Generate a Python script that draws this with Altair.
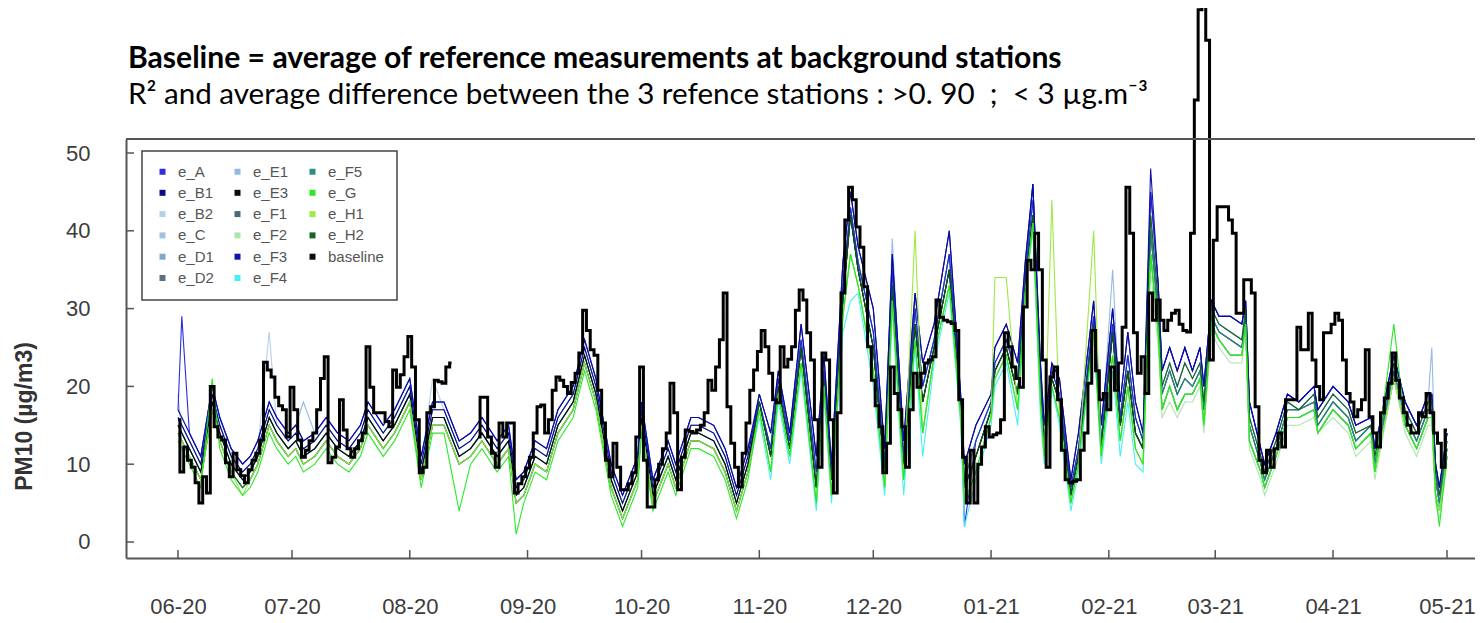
import altair as alt
import pandas as pd

START = "2020-06-01"

# ---- baseline (daily, from 2020-06-01), None = missing days ----
baseline_pm10 = [
    15.7, 9.0, 12.2, 10.5, 9.6, 7.6, 5.0, 8.4, 6.3, 20.0,
    14.8, 13.5, 13.1, 10.2, 8.4, 11.4, 9.3, 8.5, 7.6, 9.3,
    10.5, 11.4, 13.1, 23.1, 22.1, 21.2, 18.6, 17.5, 17.0, 13.5,
    19.9, 17.0, 13.1, 10.9, 11.8, 13.0, 14.0, 17.0, 21.0, 23.8,
    10.2, 10.9, 12.2, 18.3, 14.4, 12.0, 10.9, 12.0, 13.0, 14.0,
    25.1, 19.9, 16.6, 16.6, 16.6, 15.5, 14.8, 22.1, 19.9, 21.5,
    23.8, 26.4, 22.5, 15.7, 8.9, 9.6, 16.6, 17.4, 20.8, 20.6,
    20.4, 22.5, 23.0, None, None, None, None, None, None, 13.5,
    18.6, 18.6, 13.5, 11.4, 9.6, 15.3, 13.5, 15.3, 15.3, 6.3,
    7.5, 8.4, 9.5, 10.9, 14.0, 17.4, 17.6, 14.0, 15.7, 19.5,
    21.2, 20.8, 20.0, 19.1, 20.5, 21.7, 24.3, 29.8, 27.2, 24.7,
    24.0, 19.5, 15.3, 10.5, 8.4, 12.7, 9.6, 6.7, 6.7, 7.5,
    8.9, 13.5, 22.5, 10.5, 4.5, 4.5, 8.0, 10.0, 12.0, 14.0,
    20.4, 16.6, 6.7, 10.9, 14.4, 14.2, 14.0, 14.4, 15.0, 16.6,
    20.8, 19.5, 22.5, 26.0, 32.0, 17.4, 12.7, 9.6, 7.1, 11.4,
    15.3, 19.5, 22.1, 24.5, 27.2, 25.1, 21.7, 18.3, 17.9, 25.1,
    22.5, 23.5, 25.1, 29.8, 32.4, 31.1, 26.9, 23.4, 15.7, 9.6,
    24.3, 23.4, 15.7, 6.3, 16.6, 32.0, 41.4, 45.6, 44.0, 40.5,
    37.9, 32.8, 25.1, 20.8, 17.5, 14.8, 8.9, 12.7, 22.5, 19.1,
    17.0, 14.8, 9.6, 17.0, 21.7, 19.9, 21.7, 23.0, 23.4, 23.8,
    31.1, 28.9, 28.5, 28.3, 28.1, 27.2, 18.3, 10.9, 5.0, 11.8,
    5.0, 10.0, 12.2, 14.8, 13.5, 13.8, 14.0, 15.7, 26.9, 25.1,
    22.5, 21.0, 19.9, 30.2, 36.2, 35.0, 39.7, 35.0, 23.4, 9.6,
    21.2, 22.5, 18.3, 11.8, 8.0, 7.6, 7.8, 8.0, 11.8, 14.0,
    20.4, 27.2, 22.0, 18.3, 19.1, 17.0, 22.5, 19.5, 23.0, 27.6,
    45.6, 39.7, 26.9, 21.7, 23.8, 19.1, 32.0, 28.5, 31.1, 28.5,
    27.2, 28.5, 29.4, 29.8, 28.0, 27.2, 27.0, 39.7, 56.8, 68.4,
    75.0, 64.5, 23.4, 38.8, 43.1, 43.1, 43.1, 41.4, 39.7, 29.4,
    29.4, 33.7, 33.7, 32.0, 17.4, 10.5, 8.9, 11.8, 9.6, 12.0,
    14.0, 12.2, 18.3, 18.3, 18.3, 27.6, 24.7, 24.7, 29.4, 23.4,
    20.0, 18.3, 26.9, 26.9, 28.0, 29.4, 28.5, 23.4, 19.1, 18.0,
    16.1, 17.0, 18.3, 24.7, 16.1, 14.0, 12.2, 16.6, 18.5, 20.4,
    24.3, 20.8, 18.5, 16.6, 15.0, 14.0, 14.0, 16.6, 16.1, 19.1,
    16.6, 14.0, 12.7, 9.6, 14.4,
]

# ---- sensors: values at these day offsets from 2020-06-01 ----
sensor_day = [0, 1, 3, 6, 9, 11, 14, 17, 19, 21, 24, 26, 29, 31, 33, 36, 39, 42, 45, 48,
              50, 54, 57, 61, 64, 67, 70, 74, 77, 80, 84, 87, 89, 91, 94, 97, 100, 104, 107, 110,
              114, 117, 121, 122, 125, 129, 131, 135, 137, 141, 144, 147, 150,
              153, 156, 158, 161, 164, 168, 170, 172, 175, 177, 179, 183, 186, 188, 191, 194, 196, 199,
              203, 206, 207, 210, 214, 215, 218, 221, 223, 225, 227, 228, 230, 232, 235, 237, 241, 243,
              246, 248, 250, 252, 254,
              256, 258, 259, 261, 263, 265, 267, 269, 270, 272, 274, 277, 280, 281, 282, 285, 286, 289,
              292, 295, 299, 300, 304, 308, 310, 314, 315, 320, 323, 326, 329, 330, 331, 332, 334]

e_A = [17,29,14,11,20,16,12,10,11,13, 18,16,14,15,13,14,16,14,13,15, 18,15,17,21,11,18,18,13,14,16, 13,15,8,9,13,12,17,20,26,21, 10,6,11,18,8,13,10,16,16,15, 12,7,12,
       18,12,21,13,26,9,22,9,33,43, 36,27,10,35,11,30,20,26,37,18, 2,13,18,23,26,21,34,44,21,13, 22,19,7,12,29,13,28,16,24,16, 13,
       45,33,22,25,22,25,22,25,20,31, 29,29,28,31,18,12,10,14,19,18, 20,17,20,18,15,16,12,24,18,15, 19,19,10,7,14]
e_B1 = [16,15,13,10,19,15,11,9,10,12, 17,15,13,14,12,13,15,13,12,14, 17,14,16,20,10,17,17,12,13,15, 12,14,7,8,12,11,16,19,25,20, 9,5,10,17,7,12,9,15,15,14, 11,6,11,
        19,14,22,14,28,11,24,10,36,45, 38,30,12,37,13,32,23,28,40,19, 10,15,19,25,28,23,36,46,23,15, 23,21,8,14,31,15,30,18,27,18, 14,
        45,33,22,25,22,25,22,25,20,31, 29,29,28,31,18,12,10,14,19,18, 20,17,20,18,15,16,12,24,18,15, 19,19,10,7,14]
e_B2 = [16,15,13,10,19,15,11,9,10,12, 27,15,13,14,12,13,15,13,12,14, 17,14,16,20,10,21,17,12,13,15, 12,14,7,8,12,11,16,19,25,20, 9,5,10,17,7,12,9,15,15,14, 11,6,11,
        18,12,21,13,26,9,22,9,33,43, 36,27,10,35,11,30,20,26,37,18, 8,13,18,23,26,21,34,44,21,13, 22,19,7,12,29,13,28,16,24,16, 13,
        40,29,19,22,19,21,20,22,17,29, 27,26,25,29,15,10,8,12,17,17, 18,15,18,16,13,15,10,22,16,13, 17,17,8,5,12]
e_C = [19,14,12,9,18,14,10,8,9,11, 16,14,12,13,11,12,14,12,11,13, 16,13,15,19,9,16,16,11,12,14, 11,13,6,7,11,10,15,18,24,19, 8,4,9,16,6,11,8,14,14,13, 10,5,10,
       17,9,19,11,23,5,20,6,29,37, 33,22,7,31,8,26,14,24,33,16, 5,9,16,21,24,17,32,41,18,11, 20,16,5,10,27,11,24,13,20,12, 10,
       37,27,17,20,17,19,19,21,15,28, 26,24,24,28,13,9,7,11,16,16, 17,14,17,15,12,14,9,21,15,12, 16,16,6,4,11]
e_D1 = [16,15,13,10,19,15,11,9,10,12, 17,15,13,14,12,13,15,13,12,14, 17,14,16,20,10,17,17,12,13,15, 12,14,7,8,12,11,16,19,25,20, 9,5,10,17,7,12,9,15,15,14, 11,6,11,
        18,11,20,12,25,7,21,8,31,42, 35,25,9,33,10,28,18,25,35,17, 7,11,17,22,25,19,33,42,20,12, 21,18,6,11,28,12,27,15,22,14, 12,
        42,31,20,23,20,23,21,23,18,30, 28,27,26,30,16,11,9,13,18,17, 19,16,19,17,14,15,11,23,17,14, 18,18,9,6,13]
e_D2 = [15,14,12,9,18,14,10,8,9,11, 16,14,12,13,11,12,14,12,11,13, 16,13,15,19,9,16,16,11,12,14, 11,13,6,7,11,10,15,18,24,19, 8,4,9,16,6,11,8,14,14,13, 10,5,10,
        18,11,20,12,25,7,21,8,31,42, 35,25,9,33,10,28,18,25,35,17, 7,11,17,22,25,19,33,42,20,12, 21,18,6,11,28,12,27,15,22,14, 12,
        40,29,19,22,19,21,20,22,17,29, 27,26,25,29,15,10,8,12,17,17, 18,15,18,16,13,15,10,22,16,13, 17,17,8,5,12]
e_E1 = [17,16,14,11,20,16,12,10,11,13, 18,16,14,15,18,14,16,14,13,15, 18,15,17,21,11,18,18,13,14,16, 13,15,8,9,13,12,17,20,26,21, 10,6,11,18,8,13,10,16,16,15, 12,7,12,
        18,12,21,13,26,9,22,9,33,43, 36,27,10,39,11,30,20,26,37,18, 8,13,18,23,26,21,34,44,21,13, 22,19,7,12,29,13,35,16,24,16, 13,
        42,31,20,23,20,23,21,23,18,30, 28,27,26,30,16,11,9,13,18,17, 19,16,19,17,14,15,11,23,17,14, 18,25,9,6,13]
e_E3 = [15,14,12,9,18,14,10,8,9,11, 16,14,12,13,11,12,14,12,11,13, 16,13,15,19,9,16,16,11,12,14, 11,13,6,7,11,10,15,18,24,19, 8,4,9,16,6,11,8,14,14,13, 10,5,10,
        18,11,20,12,25,7,21,8,31,42, 35,25,9,33,10,28,18,25,35,17, 7,11,17,22,25,19,33,42,20,12, 21,18,6,11,28,12,27,15,22,14, 12,
        37,27,17,20,17,19,19,21,15,28, 26,24,24,28,13,9,7,11,16,16, 17,14,17,15,12,14,9,21,15,12, 16,16,6,4,11]
e_F1 = [14,13,11,8,17,13,9,7,8,10, 15,13,11,12,10,11,13,11,10,12, 15,12,14,18,8,15,15,10,11,13, 10,12,5,6,10,9,14,17,23,18, 7,3,8,15,5,10,7,13,13,12, 9,4,9,
        18,11,20,12,25,7,21,8,31,42, 35,25,9,33,10,28,18,25,35,17, 7,11,17,22,25,19,33,42,20,12, 21,18,6,11,28,12,27,15,22,14, 12,
        40,29,19,22,19,21,20,22,17,29, 27,26,25,29,15,10,8,12,17,17, 18,15,18,16,13,15,10,22,16,13, 17,17,8,5,12]
e_F2 = [14,13,11,8,17,13,9,7,8,10, 15,13,11,12,10,11,13,11,10,12, 15,12,14,18,8,15,15,10,11,13, 10,12,5,6,10,9,14,17,23,18, 7,3,8,15,5,10,7,13,13,12, 9,4,9,
        17,9,19,11,23,5,20,6,29,37, 33,22,7,31,8,26,14,24,33,16, 5,9,16,21,24,17,32,41,18,11, 20,16,5,10,27,11,24,13,20,12, 10,
        35,25,16,18,16,18,18,20,14,27, 25,23,23,27,12,8,6,10,15,15, 16,14,16,14,11,13,8,21,14,11, 15,15,5,3,10]
e_F3 = [17,16,14,11,20,16,12,10,11,13, 18,16,14,15,13,14,16,14,13,15, 18,15,17,21,11,18,18,13,14,16, 13,15,8,9,13,12,17,20,26,21, 10,6,11,18,8,13,10,16,16,15, 12,7,12,
        19,14,22,14,28,11,24,10,36,45, 38,30,12,37,13,32,23,28,40,19, 10,15,19,25,28,23,36,46,23,15, 23,21,8,14,31,15,30,18,27,18, 14,
        48,33,22,25,22,25,22,25,20,31, 29,29,28,31,18,12,10,14,19,18, 20,17,20,18,15,16,12,24,18,15, 19,19,10,7,14]
e_F4 = [14,13,11,8,17,13,9,7,8,10, 15,13,11,12,10,11,13,11,10,12, 15,12,14,18,8,15,15,10,11,13, 10,12,5,6,10,9,14,17,23,18, 7,3,8,15,5,10,7,13,13,12, 9,4,9,
        16,8,18,10,22,4,19,5,27,31, 32,20,6,30,6,25,11,23,32,15, 2,8,15,20,23,15,32,40,16,10, 20,15,4,9,27,10,22,11,18,10, 9,
        37,27,17,20,17,19,19,21,15,28, 26,24,24,28,13,9,7,11,16,16, 17,14,17,15,12,14,9,21,15,12, 16,16,6,4,11]
e_F5 = [15,14,12,9,18,14,10,8,9,11, 16,14,12,13,11,12,14,12,11,13, 16,13,15,19,9,16,16,11,12,14, 11,13,6,7,11,10,15,18,24,19, 8,4,9,16,6,11,8,14,14,13, 10,5,10,
        18,12,21,13,26,9,22,9,33,43, 36,27,10,35,11,30,20,26,37,18, 8,13,18,23,26,21,34,46,21,13, 22,19,7,12,29,13,28,16,24,16, 13,
        40,29,19,22,19,21,20,22,17,29, 27,26,25,29,15,10,8,12,17,17, 18,15,18,16,13,15,10,22,16,13, 17,17,8,5,12]
e_G = [13,12,10,7,21,12,8,6,7,9, 14,12,10,11,9,10,12,10,9,11, 14,11,13,17,7,14,14,4,10,12, 9,11,1,5,9,8,13,16,22,17, 6,2,7,14,4,9,6,12,12,11, 8,3,8,
       17,9,19,11,23,5,20,6,29,37, 33,22,7,31,8,26,14,24,33,16, 5,9,16,21,24,17,32,41,18,11, 20,16,5,10,27,11,24,13,20,12, 10,
       37,27,17,20,17,19,19,21,15,28, 26,24,24,28,13,9,7,11,16,16, 17,14,17,15,12,14,9,28,15,12, 16,16,6,2,11]
e_H1 = [14,13,11,8,17,13,9,6,8,10, 15,13,11,12,10,11,13,11,10,12, 15,12,14,18,8,15,15,10,11,13, 10,12,5,6,10,9,14,17,23,18, 7,3,8,15,5,10,7,13,13,12, 9,4,9,
        17,9,19,11,23,5,20,6,29,37, 33,22,7,31,8,40,14,24,33,16, 5,9,16,34,34,17,32,41,18,11, 44,16,5,10,40,11,24,13,20,12, 10,
        37,27,17,20,17,19,19,21,15,28, 26,24,24,28,13,9,7,11,16,16, 17,14,17,15,12,14,9,21,15,12, 16,16,6,4,11]
e_H2 = [14,13,11,8,17,13,9,7,8,10, 15,13,11,12,10,11,13,11,10,12, 15,12,14,18,8,15,15,10,11,13, 10,12,5,6,10,9,14,17,23,18, 7,3,8,15,5,10,7,13,13,12, 9,4,9,
        18,11,20,12,25,7,21,8,31,42, 35,25,9,33,10,28,18,25,35,17, 7,11,17,22,25,19,33,42,20,12, 21,18,6,11,28,12,27,15,22,14, 12,
        42,31,20,23,20,23,21,23,18,30, 28,27,26,30,16,11,9,13,18,17, 19,16,19,17,14,15,11,23,17,14, 18,18,9,6,13]

sensors = {"e_A": e_A, "e_B1": e_B1, "e_B2": e_B2, "e_C": e_C, "e_D1": e_D1, "e_D2": e_D2,
           "e_E1": e_E1, "e_E3": e_E3, "e_F1": e_F1, "e_F2": e_F2, "e_F3": e_F3, "e_F4": e_F4,
           "e_F5": e_F5, "e_G": e_G, "e_H1": e_H1, "e_H2": e_H2}
draw_order = ["e_B2", "e_C", "e_D1", "e_E1", "e_D2", "e_F1", "e_F5", "e_E3", "e_B1", "e_A",
              "e_F3", "e_F4", "e_F2", "e_H2", "e_H1", "e_G"]

# legend entries (read column by column, 3 columns)
legend_order = ["e_A", "e_B1", "e_B2", "e_C", "e_D1", "e_D2", "e_E1", "e_E3", "e_F1",
                "e_F2", "e_F3", "e_F4", "e_F5", "e_G", "e_H1", "e_H2", "baseline"]
series_colors = {"e_A": "#2222d8", "e_B1": "#00007e", "e_B2": "#b0cfec", "e_C": "#9cbfe0",
                 "e_D1": "#7aa3cb", "e_D2": "#56687a", "e_E1": "#8db7e3", "e_E3": "#000000",
                 "e_F1": "#3c6670", "e_F2": "#a8e4a8", "e_F3": "#0808a8", "e_F4": "#3cf0f0",
                 "e_F5": "#1f8a80", "e_G": "#1ee81e", "e_H1": "#9ae83a", "e_H2": "#0d5c17",
                 "baseline": "#000000"}

month_ticks = ["2020-06-01", "2020-07-01", "2020-08-01", "2020-09-01", "2020-10-01", "2020-11-01",
               "2020-12-01", "2021-01-01", "2021-02-01", "2021-03-01", "2021-04-01", "2021-05-01"]
y_ticks = [0, 10, 20, 30, 40, 50]

NB = "\u00a0"
title_line1 = "Baseline = average of reference measurements at background stations"
title_line2 = ("R\u00b2 and average difference between the 3 refence stations : >0. 90" + NB + NB + ";"
               + NB + NB + "< 3 \u00b5g.m\u207b\u00b3")

# ---- tables ----
t0 = pd.Timestamp(START)


def day_str(d):
    return (t0 + pd.Timedelta(days=d)).strftime("%Y-%m-%d")


rows = []
for name in draw_order:
    for d, v in zip(sensor_day, sensors[name]):
        rows.append({"date": day_str(d), "series": name, "pm10": v})
sensor_df = pd.DataFrame(rows)
base_df = pd.DataFrame({"date": [day_str(i) for i in range(len(baseline_pm10))],
                        "series": "baseline", "pm10": baseline_pm10})
xtick_df = pd.DataFrame({"date": month_ticks})
ytick_df = pd.DataFrame({"pm10": y_ticks})
one_df = pd.DataFrame({"t1": [title_line1], "t2": [title_line2]})


def dt(s, hours=0, minutes=0):
    y, m, d = (int(p) for p in s.split("-"))
    return alt.DateTime(year=y, month=m, date=d, hours=hours, minutes=minutes, utc=True)


W, H = 1349, 419
AX = "#555555"
LABEL_FONT = "Liberation Sans"

x_enc = alt.X("date:T",
              scale=alt.Scale(type="utc", domain=[dt("2020-05-18", 7, 30), dt("2021-05-08", 8, 53)]),
              axis=alt.Axis(values=[dt(s) for s in month_ticks],
                            labelExpr="utcFormat(datum.value, '%m-%y')",
                            title=None, ticks=False, tickSize=0, grid=False, labelFlush=False,
                            labelOverlap=False, labelPadding=38, labelFontSize=22, labelFont=LABEL_FONT,
                            labelColor="#3c3c3c", domainColor=AX, domainWidth=2))
y_enc = alt.Y("pm10:Q",
              scale=alt.Scale(domain=[-2.057, 51.8], nice=False, zero=False),
              axis=alt.Axis(values=y_ticks, title="PM10 (\u00b5g/m3)", ticks=False, tickSize=0, grid=False,
                            labelPadding=36, labelFontSize=22, labelFont=LABEL_FONT, labelColor="#3c3c3c",
                            domainColor=AX, domainWidth=2, titleFont=LABEL_FONT, titleFontSize=23,
                            titleFontWeight="bold", titleColor="#333333", titleX=-102, titleY=277,
                            titleAlign="center", titleBaseline="middle"))
color_enc = alt.Color("series:N",
                      scale=alt.Scale(domain=legend_order, range=[series_colors[s] for s in legend_order]),
                      legend=alt.Legend(title=None, orient="none", legendX=16, legendY=12, columns=3,
                                        symbolType="square", symbolSize=4, symbolStrokeWidth=4,
                                        labelFont=LABEL_FONT, labelFontSize=15, labelColor="#555555",
                                        labelOffset=8, columnPadding=14, rowPadding=2.3, padding=13,
                                        strokeColor="#444444", fillColor="white"))

sensor_lines = alt.Chart(sensor_df).mark_line(strokeWidth=1.1, opacity=0.95, clip=False).encode(
    x=x_enc, y=y_enc, color=color_enc)
base_line = alt.Chart(base_df).mark_line(strokeWidth=3, interpolate="step", clip=False,
                                         invalid="break-paths-filter-domains").encode(
    x=x_enc, y=y_enc, color=color_enc)
top_frame = alt.Chart(one_df).mark_rule(color=AX, strokeWidth=2).encode(
    x=alt.value(0), x2=alt.value(W), y=alt.value(0))
x_ticks = alt.Chart(xtick_df).mark_rule(color=AX, strokeWidth=1.5).encode(
    x=x_enc, y=alt.value(H), y2=alt.value(H - 8))
y_ticks_marks = alt.Chart(ytick_df).mark_rule(color=AX, strokeWidth=1.5).encode(
    y=y_enc, x=alt.value(0), x2=alt.value(8))
t1 = alt.Chart(one_df).mark_text(align="left", baseline="alphabetic", font="Lato", fontSize=30.1,
                                 fontWeight="bold", color="#000000").encode(
    x=alt.value(2), y=alt.value(-71), text="t1:N")
t2 = alt.Chart(one_df).mark_text(align="left", baseline="alphabetic", font="Lato", fontSize=29.6,
                                 color="#000000").encode(
    x=alt.value(2), y=alt.value(-35), text="t2:N")

chart = alt.layer(sensor_lines, base_line, top_frame, x_ticks, y_ticks_marks, t1, t2).properties(
    width=W, height=H,
    autosize=alt.AutoSizeParams(type="none"),
    padding={"left": 118, "top": 131, "right": 0, "bottom": 62},
    background="white",
).configure_view(stroke="transparent").configure_legend(strokeWidth=1.5)

chart.save("out.html", embed_options={"renderer": "svg", "actions": False})
